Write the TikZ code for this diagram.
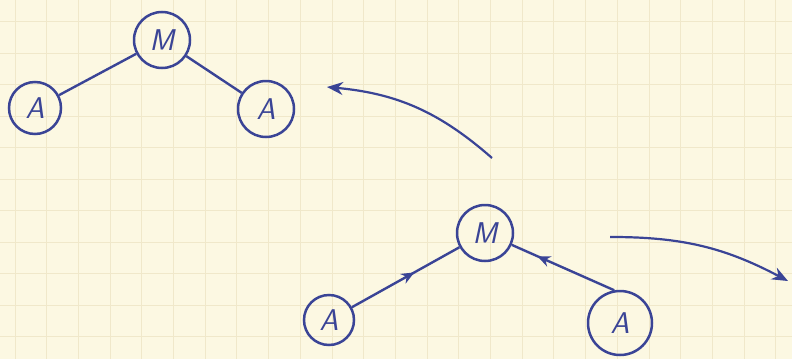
\documentclass[tikz,border=0pt]{standalone}
\usetikzlibrary{arrows.meta, decorations.markings}
\definecolor{ink}{RGB}{58,68,150}
\definecolor{paper}{RGB}{252,248,226}
\definecolor{gridpaper}{RGB}{240,232,202}

\begin{document}
\begin{tikzpicture}[x=1pt, y=-1pt]
        \tikzstyle{ball} = [circle, draw=ink, line width=2.5pt, minimum size=56pt, inner sep=0pt,
            text=ink, font=\fontsize{30}{30}\selectfont\sffamily\slshape]
        \tikzstyle{link} = [draw=ink, line width=2.4pt]
        \tikzstyle{midarrow} = [postaction={decorate}, decoration={markings,
            mark=at position #1 with {\arrow[ink]{Stealth[length=13pt, width=11pt]}}}]
        \tikzstyle{swing} = [draw=ink, line width=2.2pt, -{Stealth[length=16pt, width=13pt]}]

        % squared paper
        \useasboundingbox[fill=paper] (0,0) rectangle (792,359);
        \foreach \x in {0,...,24}
            \draw[gridpaper, line width=1pt] ({15+31.7*\x},0) -- ({15+31.7*\x},359);
        \foreach \y in {0,...,10}
            \draw[gridpaper, line width=1pt] (0,{21.7+31.5*\y}) -- (792,{21.7+31.5*\y});

        % tree before
        \node[ball] (mtop) at (162,40) {M};
        \node[ball, minimum size=52pt] (atopl) at (35,108) {A};
        \node[ball] (atopr) at (266,109) {A};
        \draw[link] (mtop) -- (atopl);
        \draw[link] (mtop) -- (atopr);

        % tree after
        \node[ball, minimum size=56pt] (mbot) at (485,233) {M};
        \node[ball, minimum size=50pt] (abotl) at (329,320) {A};
        \node[ball, minimum size=64pt] (abotr) at (620,323) {A};
        \draw[link, midarrow=0.58] (abotl) -- (mbot);
        \draw[link, midarrow=0.75] (abotr.100) -- (mbot);

        % swings
        \coordinate (backfrom) at (492,158);
        \coordinate (backto) at (327,87);
        \coordinate (forthfrom) at (610,237);
        \coordinate (forthto) at (788,281);
        \draw[swing] (backfrom) to[bend right=18] (backto);
        \draw[swing] (forthfrom) to[bend left=14] (forthto);
    \end{tikzpicture}
\end{document}
